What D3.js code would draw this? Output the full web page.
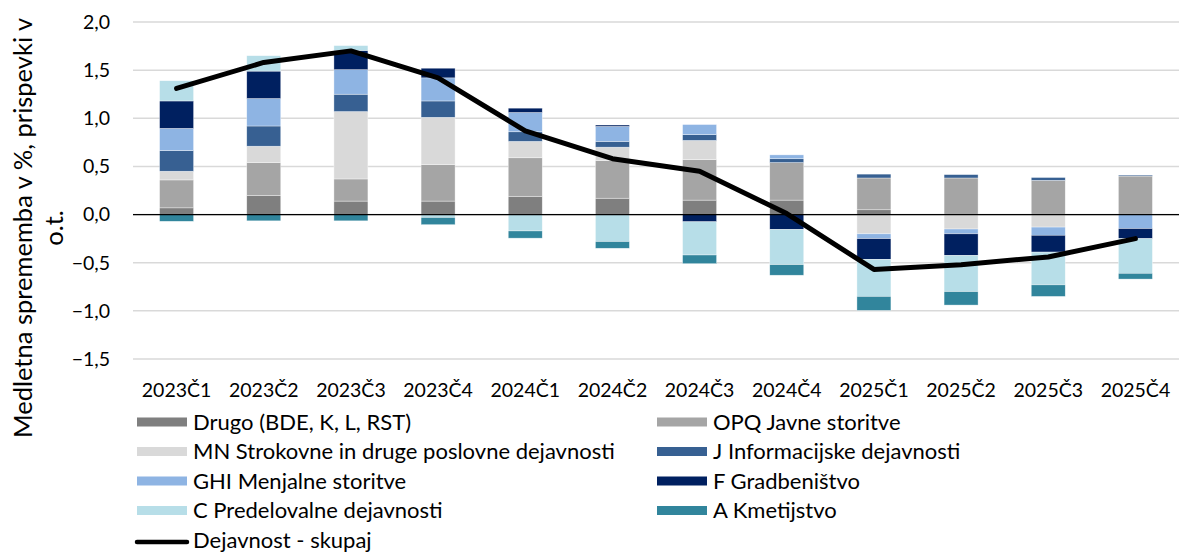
<html>
<head>
<meta charset="utf-8">
<script src="https://d3js.org/d3.v7.min.js"></script>
<style>
    body { margin: 0; background: #fff; }
    text { font-family: Lato, "Open Sans", sans-serif; fill: #000; }
</style>
</head>
<body>
</body>
<script>
    var width = 1181, height = 552;
    var margin = {top: 22, right: 2, bottom: 193, left: 133};

    // data
    let quarters = ["2023Č1","2023Č2","2023Č3","2023Č4","2024Č1","2024Č2","2024Č3","2024Č4","2025Č1","2025Č2","2025Č3","2025Č4"];
    let drugo = [0.07, 0.20, 0.14, 0.14, 0.19, 0.17, 0.15, 0.15, 0.05, 0, 0, 0];
    let opq   = [0.29, 0.34, 0.23, 0.38, 0.40, 0.39, 0.42, 0.39, 0.33, 0.38, 0.355, 0.40];
    let mn    = [0.09, 0.17, 0.70, 0.49, 0.17, 0.14, 0.20, 0, -0.20, -0.15, -0.13, 0];
    let jInf  = [0.215, 0.21, 0.18, 0.17, 0.10, 0.06, 0.06, 0.04, 0.04, 0.035, 0.03, 0.01];
    let ghi   = [0.23, 0.285, 0.255, 0.24, 0.20, 0.155, 0.105, 0.04, -0.05, -0.05, -0.085, -0.145];
    let fGrad = [0.285, 0.285, 0.20, 0.10, 0.045, 0.015, -0.075, -0.155, -0.215, -0.225, -0.175, -0.105];
    let cPred = [0.21, 0.16, 0.05, -0.03, -0.17, -0.28, -0.345, -0.365, -0.385, -0.375, -0.34, -0.36];
    let aKmet = [-0.07, -0.065, -0.065, -0.075, -0.075, -0.07, -0.09, -0.11, -0.145, -0.14, -0.12, -0.06];
    let skupaj = [1.31, 1.58, 1.70, 1.42, 0.87, 0.58, 0.45, 0.01, -0.57, -0.52, -0.44, -0.25];
    let yTicks = [-1.5, -1.0, -0.5, 0, 0.5, 1.0, 1.5, 2.0];

    let seriesNames = ["Drugo (BDE, K, L, RST)", "OPQ Javne storitve", "MN Strokovne in druge poslovne dejavnosti",
        "J Informacijske dejavnosti", "GHI Menjalne storitve", "F Gradbeništvo", "C Predelovalne dejavnosti", "A Kmetijstvo"];
    let seriesValues = [drugo, opq, mn, jInf, ghi, fGrad, cPred, aKmet];
    let colors = ["#7f7f7f", "#a5a5a5", "#d9d9d9", "#376092", "#8eb4e3", "#002060", "#b7dee8", "#31859c"];
    let lineName = "Dejavnost - skupaj";

    let table = quarters.map((q, i) => {
        let row = {q: q};
        seriesNames.forEach((s, k) => row[s] = seriesValues[k][i]);
        return row;
    });

    let svg = d3.select("body").append("svg")
        .attr("width", width)
        .attr("height", height);

    let x = d3.scaleBand()
        .domain(quarters)
        .range([margin.left, width - margin.right])
        .paddingInner(0.61)
        .paddingOuter(0.305);

    let y = d3.scaleLinear()
        .domain([-1.5, 2.0])
        .range([height - margin.bottom, margin.top]);

    let fmt = d => d3.format(".1f")(d).replace(".", ",");

    // gridlines
    svg.append("g")
        .selectAll("line")
        .data(yTicks)
        .enter().append("line")
        .attr("x1", margin.left)
        .attr("x2", width - margin.right)
        .attr("y1", d => y(d))
        .attr("y2", d => y(d))
        .attr("stroke", "#d9d9d9")
        .attr("stroke-width", 1.5);

    // y tick labels
    svg.append("g")
        .selectAll("text")
        .data(yTicks)
        .enter().append("text")
        .attr("x", 110)
        .attr("y", d => y(d))
        .attr("dy", "0.35em")
        .attr("text-anchor", "end")
        .style("font-size", "19.5px")
        .text(fmt);

    // stacked bars, positives up and negatives down
    let stack = d3.stack()
        .keys(seriesNames)
        .offset(d3.stackOffsetDiverging);
    let stacked = stack(table);

    svg.append("g")
        .selectAll("g")
        .data(stacked)
        .enter().append("g")
        .attr("fill", (d, i) => colors[i])
        .selectAll("rect")
        .data(d => d)
        .enter().append("rect")
        .attr("x", d => x(d.data.q))
        .attr("width", x.bandwidth())
        .attr("y", d => y(Math.max(d[0], d[1])))
        .attr("height", d => Math.abs(y(d[0]) - y(d[1])))
        .attr("stroke", "#ffffff")
        .attr("stroke-opacity", 0.6)
        .attr("stroke-width", 0.6);

    // zero line
    svg.append("line")
        .attr("x1", margin.left)
        .attr("x2", width - margin.right)
        .attr("y1", y(0))
        .attr("y2", y(0))
        .attr("stroke", "#000")
        .attr("stroke-width", 1.3);

    // total line
    let line = d3.line()
        .x((d, i) => x(quarters[i]) + x.bandwidth() / 2)
        .y(d => y(d));
    svg.append("path")
        .datum(skupaj)
        .attr("d", line)
        .attr("fill", "none")
        .attr("stroke", "#000")
        .attr("stroke-width", 5)
        .attr("stroke-linejoin", "round")
        .attr("stroke-linecap", "round");

    // x labels
    svg.append("g")
        .selectAll("text")
        .data(quarters)
        .enter().append("text")
        .attr("x", d => x(d) + x.bandwidth() / 2)
        .attr("y", 397)
        .attr("text-anchor", "middle")
        .style("font-size", "19.5px")
        .text(d => d);

    // y axis title
    let title = svg.append("text")
        .attr("transform", "translate(0,228) rotate(-90)")
        .attr("text-anchor", "middle")
        .style("font-size", "25.5px");
    title.append("tspan").attr("x", 0).attr("y", 32).text("Medletna sprememba v %, prispevki v");
    title.append("tspan").attr("x", 0).attr("y", 63).text("o.t.");

    // legend
    let legend = svg.append("g");
    seriesNames.forEach((s, i) => {
        let col = i % 2, row = Math.floor(i / 2);
        let lx = col == 0 ? 137 : 657;
        let ly = 422 + row * 29.5;
        legend.append("rect")
            .attr("x", lx)
            .attr("y", ly - 4.5)
            .attr("width", 50)
            .attr("height", 9)
            .attr("fill", colors[i]);
        legend.append("text")
            .attr("x", lx + 56)
            .attr("y", ly)
            .attr("dy", "0.35em")
            .style("font-size", "22px")
            .text(s);
    });
    legend.append("line")
        .attr("x1", 137)
        .attr("x2", 187)
        .attr("y1", 422 + 4 * 29.5 + 2)
        .attr("y2", 422 + 4 * 29.5 + 2)
        .attr("stroke", "#000")
        .attr("stroke-width", 4.5)
        .attr("stroke-linecap", "round");
    legend.append("text")
        .attr("x", 193)
        .attr("y", 422 + 4 * 29.5)
        .attr("dy", "0.35em")
        .style("font-size", "22px")
        .text(lineName);
</script>
</html>
